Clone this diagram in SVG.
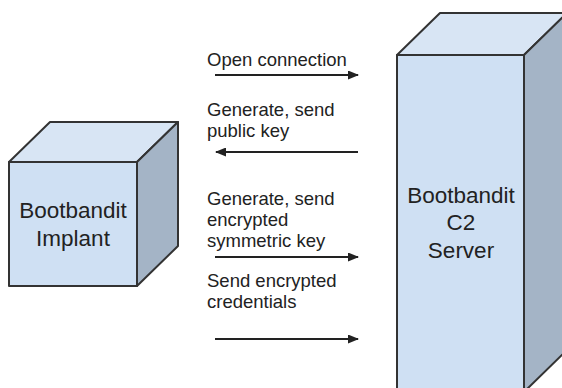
<svg xmlns="http://www.w3.org/2000/svg" width="562" height="388" viewBox="0 0 562 388">
<style>
.front{fill:#cfe0f3;stroke:#333;stroke-width:2;stroke-linejoin:round}
.top{fill:#d8e5f4;stroke:#333;stroke-width:2;stroke-linejoin:round}
.side{fill:#a4b4c6;stroke:#333;stroke-width:2;stroke-linejoin:round}
.box{font-family:"Liberation Sans",Arial,sans-serif;font-size:22.5px;fill:#222;text-anchor:middle}
.lbl{font-family:"Liberation Sans",Arial,sans-serif;font-size:18.5px;fill:#222}
.arr{stroke:#222;stroke-width:2;fill:none;marker-end:url(#ah)}
</style>
<defs>
<marker id="ah" markerWidth="11" markerHeight="9" refX="10" refY="4.5" orient="auto" markerUnits="userSpaceOnUse">
<path d="M0,0 L11,4.5 L0,9 Z" fill="#222"/>
</marker>
</defs>
<rect width="562" height="388" fill="#fff"/>
<g id="implant">
<polygon class="top" points="9,162 50,122 178,122 137,162"/>
<polygon class="side" points="137,162 178,122 178,246 137,286"/>
<rect class="front" x="9" y="162" width="128" height="124"/>
<text class="box" x="73" y="218">Bootbandit</text>
<text class="box" x="73" y="246">Implant</text>
</g>
<g id="server">
<polygon class="top" points="397,55 440,13 567,13 524,55"/>
<polygon class="side" points="524,55 567,13 567,350 524,392"/>
<rect class="front" x="397" y="55" width="127" height="337"/>
<text class="box" x="461" y="203">Bootbandit</text>
<text class="box" x="461" y="230">C2</text>
<text class="box" x="461" y="258">Server</text>
</g>
<g id="labels">
<text class="lbl" x="207" y="66">Open connection</text>
<text class="lbl" x="207" y="116">Generate, send</text>
<text class="lbl" x="207" y="137">public key</text>
<text class="lbl" x="207" y="205">Generate, send</text>
<text class="lbl" x="207" y="226">encrypted</text>
<text class="lbl" x="207" y="247">symmetric key</text>
<text class="lbl" x="207" y="287">Send encrypted</text>
<text class="lbl" x="207" y="308">credentials</text>
</g>
<g id="connectors">
<line class="arr" x1="215" y1="75" x2="358" y2="75"/>
<line class="arr" x1="358" y1="152" x2="216" y2="152"/>
<line class="arr" x1="215" y1="257" x2="358" y2="257"/>
<line class="arr" x1="215" y1="339" x2="358" y2="339"/>
</g>
</svg>
